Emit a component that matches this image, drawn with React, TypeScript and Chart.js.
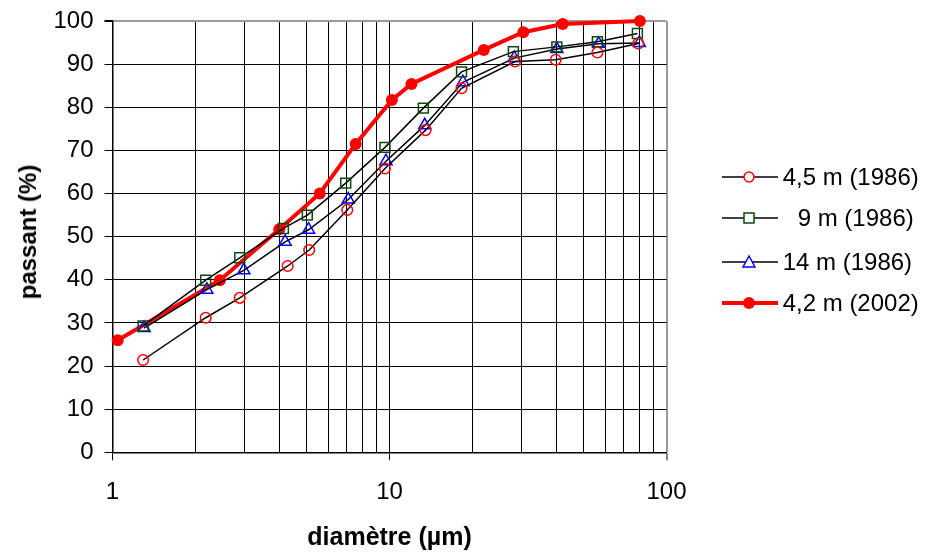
import React, { useEffect, useRef } from "react";
import { Chart, registerables } from "chart.js";

Chart.register(...registerables);

// ---- Data ----
const X_TICKS = [1, 2, 3, 4, 5, 6, 7, 8, 9, 10, 20, 30, 40, 50, 60, 70, 80, 90, 100];
const X_LABELS = [1, 10, 100];
const Y_MIN = 0;
const Y_MAX = 100;
const Y_STEP = 10;

const LABEL_45 = "4,5 m (1986)";
const X_45 = [1.29, 2.17, 2.88, 4.29, 5.13, 7.04, 9.63, 13.5, 18.2, 28.4, 39.8, 56.3, 79.1];
const Y_45 = [21.4, 31.2, 35.8, 43.2, 46.9, 56.2, 65.8, 74.7, 84.4, 90.6, 91.0, 92.7, 94.8];

const LABEL_9 = "9 m (1986)";
const X_9 = [1.29, 2.17, 2.88, 4.14, 5.05, 6.95, 9.63, 13.25, 18.2, 28.0, 40.2, 56.3, 78.5];
const Y_9 = [29.3, 39.9, 45.1, 51.9, 55.0, 62.4, 70.7, 79.8, 88.2, 92.9, 94.0, 95.2, 97.1];

const LABEL_14 = "14 m (1986)";
const X_14 = [1.3, 2.19, 2.98, 4.2, 5.1, 7.1, 9.71, 13.4, 18.4, 28.2, 40.2, 56.9, 79.8];
const Y_14 = [28.8, 37.7, 42.2, 48.8, 51.6, 58.6, 67.5, 75.8, 85.8, 91.4, 93.5, 94.7, 94.9];

const LABEL_42 = "4,2 m (2002)";
const X_42 = [1.044, 2.44, 4.0, 5.6, 7.55, 10.2, 12.0, 21.9, 30.4, 42.2, 80.2];
const Y_42 = [26.0, 39.9, 51.7, 60.0, 71.5, 81.7, 85.4, 93.3, 97.4, 99.3, 100];

const X_TITLE = "diamètre (µm)";
const Y_TITLE = "passant (%)";

// ---- Styles ----
const FONT = "'Liberation Sans', Arial, Helvetica, sans-serif";
const RED = "#ff0000";
const GREEN = "#0a4a0a";
const BLUE = "#0000ff";

const pts = (xs: number[], ys: number[]) => xs.map((x, i) => ({ x, y: ys[i] }));

const CHART_LEFT = 112.5;
const CHART_TOP = 21;
const CHART_RIGHT = 666.5;
const CHART_BOTTOM = 452.3;
const W = 930;
const H = 552;

function LegendIcon({ kind }: { kind: string }) {
  const w = 56, h = 16, cy = 8, cx = 27;
  if (kind === "red") {
    return (
      <svg width={w} height={h} style={{ display: "block" }}>
        <line x1={0} y1={cy} x2={w} y2={cy} stroke={RED} strokeWidth={4} />
        <circle cx={cx} cy={cy} r={6} fill={RED} />
      </svg>
    );
  }
  let marker: any = null;
  if (kind === "circle") marker = <circle cx={cx} cy={cy} r={5} fill="#fff" stroke={RED} strokeWidth={1.5} />;
  if (kind === "square") marker = <rect x={cx - 5} y={cy - 5} width={10} height={10} fill="#fff" stroke={GREEN} strokeWidth={1.5} />;
  if (kind === "triangle") marker = <polygon points={`${cx},${cy - 6} ${cx + 6},${cy + 5} ${cx - 6},${cy + 5}`} fill="#fff" stroke={BLUE} strokeWidth={1.5} />;
  return (
    <svg width={w} height={h} style={{ display: "block" }}>
      <line x1={0} y1={cy} x2={w} y2={cy} stroke="#000" strokeWidth={1.5} />
      {marker}
    </svg>
  );
}

const LEGEND = [
  { label: LABEL_45, kind: "circle", y: 176.7, indent: 0 },
  { label: LABEL_9, kind: "square", y: 218, indent: 15 },
  { label: LABEL_14, kind: "triangle", y: 261.7, indent: 0 },
  { label: LABEL_42, kind: "red", y: 303, indent: 0 },
];

export default function App() {
  const ref = useRef<HTMLCanvasElement | null>(null);

  useEffect(() => {
    if (!ref.current) return;
    const isMajor = (v: number) => Math.abs(Math.log10(v) - Math.round(Math.log10(v))) < 1e-9;
    const chart = new Chart(ref.current, {
      type: "line",
      data: {
        datasets: [
          {
            label: LABEL_45,
            data: pts(X_45, Y_45),
            borderColor: "#000",
            borderWidth: 1.5,
            pointStyle: "circle",
            pointRadius: 5.3,
            pointBorderWidth: 1.5,
            pointBorderColor: RED,
            pointBackgroundColor: "rgba(0,0,0,0)",
            tension: 0,
            clip: false,
          },
          {
            label: LABEL_9,
            data: pts(X_9, Y_9),
            borderColor: "#000",
            borderWidth: 1.5,
            pointStyle: "rect",
            pointRadius: 7,
            pointBorderWidth: 1.5,
            pointBorderColor: GREEN,
            pointBackgroundColor: "rgba(0,0,0,0)",
            tension: 0,
            clip: false,
          },
          {
            label: LABEL_14,
            data: pts(X_14, Y_14),
            borderColor: "#000",
            borderWidth: 1.5,
            pointStyle: "triangle",
            pointRadius: 7,
            pointBorderWidth: 1.5,
            pointBorderColor: BLUE,
            pointBackgroundColor: "rgba(0,0,0,0)",
            tension: 0,
            clip: false,
          },
          {
            label: LABEL_42,
            data: pts(X_42, Y_42),
            borderColor: RED,
            borderWidth: 4,
            pointStyle: "circle",
            pointRadius: 6,
            pointBorderWidth: 0,
            pointBorderColor: RED,
            pointBackgroundColor: RED,
            tension: 0,
            clip: false,
          },
        ],
      },
      options: {
        responsive: false,
        animation: false,
        devicePixelRatio: 1,
        layout: {
          padding: { left: 0, top: CHART_TOP, right: W - CHART_RIGHT, bottom: 0 },
        },
        plugins: {
          legend: { display: false },
          tooltip: { enabled: false },
        },
        scales: {
          x: {
            type: "logarithmic",
            min: 1,
            max: 100,
            afterBuildTicks: (scale: any) => {
              scale.ticks = X_TICKS.map((v) => ({ value: v, major: isMajor(v) }));
            },
            afterFit: (scale: any) => {
              scale.height = H - CHART_BOTTOM;
              scale.paddingLeft = 0;
              scale.paddingRight = 0;
            },
            ticks: {
              autoSkip: false,
              maxRotation: 0,
              minRotation: 0,
              padding: 18,
              color: "#000",
              font: { family: FONT, size: 24 },
              callback: (v: any) => (X_LABELS.includes(Number(v)) ? String(v) : ""),
            },
            grid: {
              color: (c: any) => (c.tick && c.tick.value === 100 ? "#9a9a9a" : "#000"),
              lineWidth: (c: any) => (c.tick && c.tick.value === 100 ? 2 : 1),
              tickColor: (c: any) => (c.tick && isMajor(c.tick.value) ? "#000" : "rgba(0,0,0,0)"),
              tickLength: 8,
              tickWidth: 1,
            },
            border: { color: "#000", width: 1.5 },
            title: {
              display: true,
              text: X_TITLE,
              color: "#000",
              font: { family: FONT, size: 25, weight: "bold" },
              padding: { top: 0, bottom: -1 },
            },
          },
          y: {
            type: "linear",
            min: Y_MIN,
            max: Y_MAX,
            afterFit: (scale: any) => {
              scale.width = CHART_LEFT;
              scale.paddingTop = 0;
              scale.paddingBottom = 0;
            },
            ticks: {
              stepSize: Y_STEP,
              padding: 11,
              color: "#000",
              font: { family: FONT, size: 24 },
            },
            grid: {
              color: (c: any) => (c.tick && c.tick.value === 100 ? "#9a9a9a" : "#000"),
              lineWidth: (c: any) => (c.tick && c.tick.value === 100 ? 2 : 1),
              tickColor: "#000",
              tickLength: 8,
            },
            border: { color: "#000", width: 1.5 },
            title: { display: false },
          },
        },
      } as any,
    });
    return () => chart.destroy();
  }, []);

  return (
    <div style={{ position: "fixed", left: 0, top: 0, width: W, height: H, background: "#fff" }}>
      <canvas ref={ref} width={W} height={H} style={{ position: "absolute", left: 0, top: 0, width: W, height: H }} />
      <div
        style={{
          position: "absolute",
          left: 28,
          top: 231.5,
          transform: "translate(-50%, -50%) rotate(-90deg)",
          fontFamily: FONT,
          fontSize: 24,
          fontWeight: "bold",
          color: "#000",
          whiteSpace: "nowrap",
          lineHeight: "28px",
        }}
      >
        {Y_TITLE}
      </div>
      {LEGEND.map((it) => (
        <div
          key={it.label}
          style={{
            position: "absolute",
            left: 721.7,
            top: it.y - 14,
            height: 28,
            display: "flex",
            alignItems: "center",
            fontFamily: FONT,
            fontSize: 24,
            color: "#000",
            whiteSpace: "nowrap",
          }}
        >
          <LegendIcon kind={it.kind} />
          <span style={{ marginLeft: 5 + it.indent }}>{it.label}</span>
        </div>
      ))}
    </div>
  );
}
